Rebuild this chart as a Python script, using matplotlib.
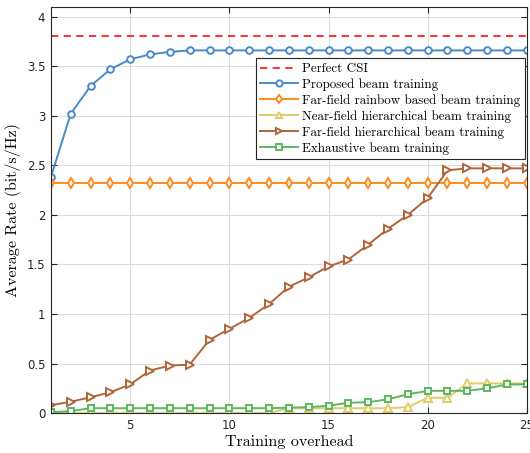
import matplotlib
matplotlib.use('Agg')
import matplotlib.pyplot as plt
import numpy as np

x = np.arange(1, 26)

perfect_csi = 3.81
proposed = [2.38, 3.02, 3.30, 3.47, 3.57, 3.62, 3.645, 3.66, 3.66, 3.66,
            3.66, 3.66, 3.66, 3.66, 3.66, 3.66, 3.66, 3.66, 3.66, 3.66,
            3.66, 3.66, 3.66, 3.66, 3.66]
rainbow = [2.32] * 25
near_hier = [0.0, 0.0, 0.0, 0.0, 0.0, 0.0, 0.0, 0.0, 0.0, 0.0,
             0.0, 0.0, 0.05, 0.05, 0.05, 0.05, 0.05, 0.05, 0.06, 0.155,
             0.155, 0.30, 0.30, 0.30, 0.30]
far_hier = [0.08, 0.115, 0.16, 0.21, 0.29, 0.43, 0.48, 0.49, 0.74, 0.85,
            0.96, 1.10, 1.275, 1.37, 1.48, 1.55, 1.70, 1.86, 2.00, 2.17,
            2.45, 2.47, 2.47, 2.47, 2.47]
exhaustive = [0.01, 0.02, 0.05, 0.05, 0.05, 0.05, 0.05, 0.05, 0.05, 0.05,
              0.05, 0.05, 0.055, 0.06, 0.075, 0.105, 0.11, 0.14, 0.19, 0.225,
              0.225, 0.225, 0.25, 0.29, 0.29]

serif = 'cmr10'

fig = plt.figure(figsize=(5.30, 4.53), dpi=100)
ax = fig.add_axes([0.096, 0.088, 0.898, 0.897])

ax.axhline(perfect_csi, color='#FF2020', ls='--', lw=1.3, dashes=(4, 3), label='Perfect CSI')
ax.plot(x, proposed, '-o', color='#4A8AC6', lw=1.4, ms=4.8, mfc='white', mew=1.4,
        label='Proposed beam training')
ax.plot(x, rainbow, '-d', color='#FF8A1C', lw=1.4, ms=5.2, mfc='white', mew=1.4,
        label='Far-field rainbow based beam training')
ax.plot(x, near_hier, '-^', color='#E2CC6A', lw=1.4, ms=5.2, mfc='white', mew=1.4,
        label='Near-field hierarchical beam training')
ax.plot(x, far_hier, '->', color='#B0643A', lw=1.4, ms=5.6, mfc='white', mew=1.4,
        label='Far-field hierarchical beam training')
ax.plot(x, exhaustive, '-s', color='#5CB85C', lw=1.4, ms=4.3, mfc='white', mew=1.4,
        label='Exhaustive beam training')

ax.set_xlim(1, 25)
ax.set_ylim(0, 4.1)
ax.set_xticks([5, 10, 15, 20, 25])
ax.set_yticks([0, 0.5, 1, 1.5, 2, 2.5, 3, 3.5, 4])
ax.set_yticklabels(['0', '0.5', '1', '1.5', '2', '2.5', '3', '3.5', '4'])
ax.grid(True, color='#DCDCDC', lw=0.8)
ax.set_axisbelow(True)
ax.tick_params(direction='in', top=True, right=True, length=4, labelsize=8.5,
               colors='#262626', pad=4)
for sp in ax.spines.values():
    sp.set_color('#262626')
    sp.set_linewidth(0.8)

ax.set_xlabel('Training overhead', fontsize=11.5, family=serif, labelpad=2)
ax.set_ylabel('Average Rate (bit/s/Hz)', fontsize=11.5, family=serif, labelpad=4)

leg = ax.legend(loc='upper right', bbox_to_anchor=(0.996, 0.873),
                prop={'family': serif, 'size': 9.4}, fancybox=False, framealpha=1,
                edgecolor='#262626', borderpad=0.35, labelspacing=0.25,
                handlelength=2.9, handletextpad=0.3, borderaxespad=0)
leg.get_frame().set_linewidth(0.8)
for h in leg.legend_handles:
    h.set_markersize(4.5)

fig.savefig('out.png', dpi=100)
